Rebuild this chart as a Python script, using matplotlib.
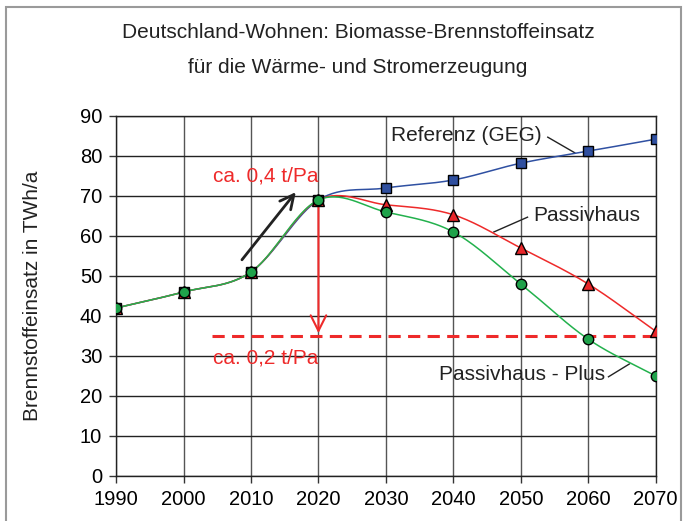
import numpy as np
import matplotlib
matplotlib.use("Agg")
import matplotlib.pyplot as plt
from matplotlib.patches import Rectangle

plt.rcParams['font.family'] = ['Liberation Sans', 'DejaVu Sans']

years = [1990, 2000, 2010, 2020, 2030, 2040, 2050, 2060, 2070]
referenz = [42, 46, 51, 69, 72, 74, 78.2, 81.2, 84.2]
passivhaus = [42, 46, 51, 69, 67.8, 65.3, 57, 48, 36.2]
plus = [42, 46, 51, 69, 66, 61, 48, 34.2, 25]
target_level = 35
yticks = list(range(0, 91, 10))
xticks = years

title1 = "Deutschland-Wohnen: Biomasse-Brennstoffeinsatz"
title2 = "für die Wärme- und Stromerzeugung"
ylabel = "Brennstoffeinsatz in TWh/a"


def smooth(x, y, n=30, tension=0.5):
    x = np.asarray(x, float); y = np.asarray(y, float)
    px = np.concatenate([[2*x[0]-x[1]], x, [2*x[-1]-x[-2]]])
    py = np.concatenate([[2*y[0]-y[1]], y, [2*y[-1]-y[-2]]])
    xs, ys = [], []
    for i in range(1, len(px)-2):
        p0, p1, p2, p3 = [np.array([px[j], py[j]]) for j in (i-1, i, i+1, i+2)]
        m1 = tension*(p2-p0)
        m2 = tension*(p3-p1)
        t = np.linspace(0, 1, n, endpoint=(i == len(px)-3))
        h00 = 2*t**3-3*t**2+1; h10 = t**3-2*t**2+t
        h01 = -2*t**3+3*t**2; h11 = t**3-t**2
        pts = np.outer(h00, p1)+np.outer(h10, m1)+np.outer(h01, p2)+np.outer(h11, m2)
        xs.extend(pts[:, 0]); ys.extend(pts[:, 1])
    return np.array(xs), np.array(ys)


fig = plt.figure(figsize=(6.83, 5.21), dpi=100)
fig.patches.append(Rectangle((0.009, -0.01), 0.988, 0.997, transform=fig.transFigure,
                             fill=False, edgecolor='#9a9a9a', lw=1.5))
ax = fig.add_axes([0.170, 0.0864, 0.790, 0.691])

blue = '#2f50a2'
red = '#ee2a2a'
green = '#23b14d'

sx, sy = smooth(years, referenz)
ax.plot(sx, sy, color=blue, lw=1.1, zorder=3)
ax.plot(years, referenz, 's', ms=7.5, mfc='#2f4f9f', mec='black', mew=1.0, zorder=4)
sx, sy = smooth(years, passivhaus)
ax.plot(sx, sy, color=red, lw=1.1, zorder=3)
ax.plot(years, passivhaus, '^', ms=8, mfc='#e8262a', mec='black', mew=1.0, zorder=4)
sx, sy = smooth(years, plus)
ax.plot(sx, sy, color=green, lw=1.1, zorder=3)
ax.plot(years, plus, 'o', ms=7.5, mfc='#1fa24a', mec='black', mew=1.0, zorder=5)

ax.set_xlim(1990, 2070)
ax.set_ylim(0, 90)
ax.set_xticks(xticks)
ax.set_yticks(yticks)
ax.tick_params(labelsize=14.5, length=5, width=1, direction='out', color='#333333', pad=5)
ax.grid(True, axis='y', color='#222222', lw=1.0)
ax.grid(True, axis='x', color='#555555', lw=1.0)
ax.set_axisbelow(True)
for s in ax.spines.values():
    s.set_color('#222222'); s.set_linewidth(1.0)
ax.set_ylabel(ylabel, fontsize=15, labelpad=27, color='#222222')

fig.text(0.524, 0.937, title1, ha='center', va='center', fontsize=15, color='#222222')
fig.text(0.524, 0.871, title2, ha='center', va='center', fontsize=15, color='#222222')

# dashed target line
ax.plot([2004.2, 2070], [target_level, target_level], ls=(0, (4, 2.4)), color=red, lw=2.2, zorder=2)
# red down arrow
ax.annotate('', xy=(2020, target_level), xytext=(2020, 69),
            arrowprops=dict(arrowstyle='->', color=red, lw=1.5, mutation_scale=28), zorder=2)
# black up arrow
ax.annotate('', xy=(2016.9, 71.5), xytext=(2008.4, 53.5),
            arrowprops=dict(arrowstyle='->', color='#222222', lw=2.0, mutation_scale=25))

ax.text(2004.3, 75.0, 'ca. 0,4 t/Pa', color=red, fontsize=15, ha='left', va='center')
ax.text(2004.3, 29.5, 'ca. 0,2 t/Pa', color=red, fontsize=15, ha='left', va='center')

ax.text(2030.7, 85, 'Referenz (GEG)', fontsize=15, ha='left', va='center', color='#222222')
ax.plot([2054.0, 2058.0], [84.7, 80.8], color='#222222', lw=1)
ax.text(2051.8, 65, 'Passivhaus', fontsize=15, ha='left', va='center', color='#222222')
ax.plot([2051.0, 2046.0], [64.7, 61.0], color='#222222', lw=1)
ax.text(2037.9, 25.3, 'Passivhaus - Plus', fontsize=15, ha='left', va='center', color='#222222')
ax.plot([2063.0, 2066.1], [24.8, 28.0], color='#222222', lw=1)

fig.savefig('out.png', dpi=100)
